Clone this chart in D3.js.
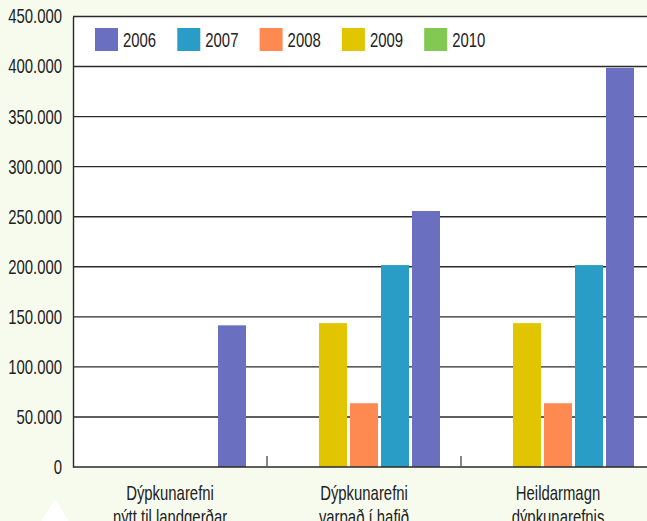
<!DOCTYPE html>
<html>

<head>
    <title>Dýpkunarefni</title>
    <script type="text/javascript" src="https://cdn.jsdelivr.net/npm/d3@7/dist/d3.min.js"></script>
    <style type="text/css">
        body { margin: 0; background: #f7fbee; }
        svg { display: block; }
        text { font-family: "Liberation Sans", Arial, sans-serif; fill: #222; }
    </style>
</head>

<body>
    <svg width="647" height="521"></svg>
</body>

<script type="text/javascript">
    // data
    let categories = [["Dýpkunarefni", "nýtt til landgerðar"], ["Dýpkunarefni", "varpað í hafið"], ["Heildarmagn", "dýpkunarefnis"]];
    let years = ["2006", "2007", "2008", "2009", "2010"];
    let colors = ["#6a6fbf", "#2a9dc6", "#fe8a52", "#e0c500", "#82c853"];
    let v2006 = [141500, 255700, 398700];
    let v2007 = [0, 201700, 201700];
    let v2008 = [0, 63700, 63700];
    let v2009 = [0, 143700, 143700];
    let v2010 = [0, 0, 0];
    let yTicks = [0, 50000, 100000, 150000, 200000, 250000, 300000, 350000, 400000, 450000];

    let series = [v2006, v2007, v2008, v2009, v2010];
    let svg = d3.select("svg");
    let pLeft = 73, pTop = 16.5, pBottom = 467, pRight = 655;
    let fs = 20, sx = 0.745; // font is a condensed one, squeeze a normal one

    let x0 = d3.scaleBand().domain(d3.range(categories.length)).range([pLeft, pRight]);
    // bars are drawn 2010 .. 2006 from left to right
    let x1 = d3.scaleBand().domain(years.slice().reverse()).range([21, 173]).paddingInner(3 / 31);
    let y = d3.scaleLinear().domain([0, 450000]).range([pBottom, pTop]);

    let loc = d3.formatLocale({ decimal: ",", thousands: ".", grouping: [3], currency: ["", ""] });
    let fmt = loc.format(",d");

    // plot area
    svg.append("rect")
        .attr("x", pLeft).attr("y", pTop)
        .attr("width", pRight - pLeft).attr("height", pBottom - pTop)
        .attr("fill", "#fff");

    // little white triangle at the bottom left
    svg.append("path")
        .attr("d", "M55,499L40,523L70,523Z")
        .attr("fill", "#fff");

    // grid lines
    svg.selectAll("line.grid").data(yTicks.slice(1)).enter()
        .append("line")
        .attr("x1", pLeft).attr("x2", pRight)
        .attr("y1", function(d) { return y(d); })
        .attr("y2", function(d) { return y(d); })
        .attr("stroke", "#2a2a2a")
        .attr("stroke-width", 1.4);

    // bars
    years.forEach(function(yr, i) {
        svg.selectAll("rect.b" + yr).data(series[i]).enter()
            .append("rect")
            .attr("x", function(d, j) { return x0(j) + x1(yr); })
            .attr("y", function(d) { return y(d); })
            .attr("width", x1.bandwidth())
            .attr("height", function(d) { return pBottom - y(d); })
            .attr("fill", colors[i]);
    });

    // y axis
    let yAxis = d3.axisLeft(y).tickValues(yTicks).tickSize(0).tickPadding(11).tickFormat(fmt);
    let gy = svg.append("g").attr("transform", "translate(" + pLeft + ",0)").call(yAxis);
    gy.select(".domain").attr("stroke", "#2a2a2a").attr("stroke-width", 1.4);
    gy.selectAll("text")
        .attr("font-size", fs).attr("fill", "#222")
        .attr("font-family", "Liberation Sans, Arial, sans-serif")
        .attr("x", -11 / sx)
        .attr("transform", "scale(" + sx + ",1)");

    // x axis, ticks pointing up between groups
    let gx = svg.append("g").attr("transform", "translate(0," + pBottom + ")");
    gx.append("line").attr("x1", pLeft).attr("x2", pRight).attr("stroke", "#2a2a2a").attr("stroke-width", 1.4);
    gx.selectAll("line.tk").data(d3.range(1, categories.length)).enter()
        .append("line")
        .attr("x1", function(d) { return x0(d); })
        .attr("x2", function(d) { return x0(d); })
        .attr("y1", 0).attr("y2", -11)
        .attr("stroke", "#555").attr("stroke-width", 1.4);

    let lbl = gx.selectAll("text.cat").data(categories).enter()
        .append("text")
        .attr("text-anchor", "middle")
        .attr("font-size", fs)
        .attr("transform", function(d, i) {
            return "translate(" + (x0(i) + x0.bandwidth() / 2) + ",0) scale(" + sx + ",1)";
        });
    lbl.selectAll("tspan").data(function(d) { return d; }).enter()
        .append("tspan")
        .attr("x", 0)
        .attr("y", function(d, k) { return 33 + k * 24; })
        .text(function(d) { return d; });

    // legend
    let lg = svg.append("g").selectAll("g").data(years).enter()
        .append("g")
        .attr("transform", function(d, i) { return "translate(" + (95 + i * 82.3) + ",28)"; });
    lg.append("rect").attr("width", 23).attr("height", 23)
        .attr("fill", function(d, i) { return colors[i]; });
    lg.append("text")
        .attr("font-size", fs)
        .attr("transform", "translate(28,19) scale(" + sx + ",1)")
        .text(function(d) { return d; });
</script>

</html>
